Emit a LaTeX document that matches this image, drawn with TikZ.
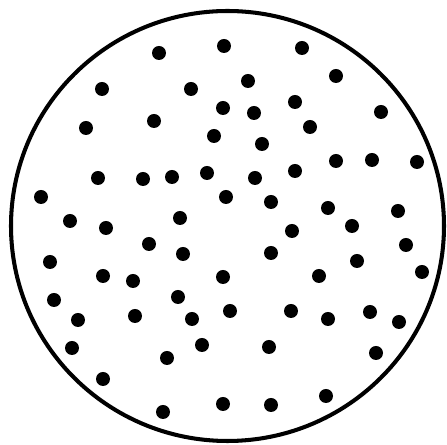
\documentclass[tikz,border=0pt]{standalone}
\usepackage{tikz}
\usetikzlibrary{calc}

\begin{document}
\begin{tikzpicture}[
  x=0.02cm, y=-0.02cm,
  rim/.style={draw=black,line width=2.3pt},
  dot/.style={fill=black},
]
  \useasboundingbox (0,0) rectangle (447,445);

  % outer rim
  \draw[rim] (227.5,226) ellipse [x radius=216.5, y radius=215];

  % dots
  \foreach \px/\py in {
    159/53, 224/46, 302/48, 102/89, 191/89, 248/81, 336/76,
    223/108, 254/113, 295/102, 381/112, 154/121, 86/128, 214/136,
    310/127, 262/144, 98/178, 143/179, 172/177, 207/173, 255/178,
    295/171, 336/161, 372/160, 417/162, 41/197, 226/197, 271/202,
    328/208, 398/211, 70/221, 106/228, 180/218, 292/231, 352/226,
    149/244, 183/254, 271/253, 357/261, 406/245, 422/272, 50/262,
    103/276, 133/281, 223/277, 319/276, 54/300, 178/297, 230/311,
    291/311, 328/319, 370/312, 399/322, 78/320, 135/316, 192/319,
    72/348, 202/345, 167/358, 269/347, 376/353, 103/379, 163/412,
    223/404, 271/405, 326/396}
    \fill[dot] (\px,\py) circle [radius=7];
\end{tikzpicture}
\end{document}
